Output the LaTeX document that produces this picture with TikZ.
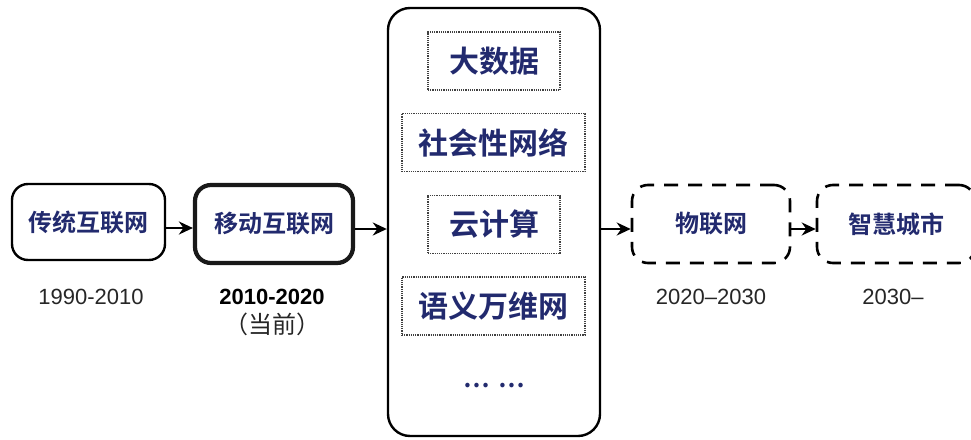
\documentclass[tikz,border=0pt]{standalone}
\usepackage{fontspec}
\setmainfont{Liberation Sans}
\newfontfamily\cjk{Noto Sans CJK SC}
\newfontfamily\cjkb{Noto Sans CJK SC Bold}
\usetikzlibrary{arrows.meta}
\definecolor{navy}{HTML}{222A6E}
\begin{document}
\begin{tikzpicture}[x=1pt,y=-1pt,
  era/.style={minimum width=158pt,minimum height=78pt,rounded corners=16pt,inner sep=0pt,
    text=navy,font=\cjkb\fontsize{24}{24}\selectfont},
  solidbox/.style={era,draw,line width=2.4pt},
  roughbox/.style={era,draw=black!90,line width=4.2pt},
  dashbox/.style={era,draw,line width=2.6pt,dash pattern=on 14pt off 10pt},
  topicbox/.style={draw,black!75,densely dotted,line width=1.2pt,minimum height=58pt,inner sep=0pt,
    text=navy,font=\cjkb\fontsize{30}{30}\selectfont},
  yearlbl/.style={font=\fontsize{22}{22}\selectfont,text=black!85,inner sep=0pt},
  flow/.style={line width=2.4pt,-{Stealth[length=14pt,width=13pt]}}]
\useasboundingbox (0,0) rectangle (971,439);
\node[solidbox,minimum width=153pt,minimum height=76pt] (b1) at (88.5,222) {传统互联网};
\node[roughbox] (b2) at (274,224) {移动互联网};
\node[draw,line width=2.4pt,rounded corners=22pt,minimum width=212pt,minimum height=428pt] (big) at (494,222) {};
\node[topicbox,minimum width=132pt] (t1) at (494,61) {大数据};
\node[topicbox,minimum width=183pt] (t2) at (493.5,142.5) {社会性网络};
\node[topicbox,minimum width=132pt] (t3) at (494,224.5) {云计算};
\node[topicbox,minimum width=183pt] (t4) at (493.5,306) {语义万维网};
\node[text=navy,font=\cjkb\fontsize{24}{24}\selectfont] (t5) at (494,386) {…\hspace{9pt}…};
\node[dashbox] (b3) at (711,224) {物联网};
\node[dashbox] (b4) at (896,224) {智慧城市};
\node[yearlbl] (y1) at (91,297) {1990-2010};
\node[yearlbl,font=\bfseries\fontsize{22}{22}\selectfont,text=black] (y2) at (272,297) {2010-2020};
\node[yearlbl,font=\cjk\fontsize{24}{24}\selectfont] (y2b) at (272,324) {（当前）};
\node[yearlbl] (y3) at (711,297) {2020–2030};
\node[yearlbl] (y4) at (893,297) {2030–};
\draw[flow] ([yshift=-6pt]b1.east) -- ([yshift=-6pt]b1.east -| b2.west);
\draw[flow] ([yshift=-5pt]b2.east) -- ([yshift=-5pt]b2.east -| big.west);
\draw[flow] (big.east |- 0,229) -- (b3.west |- 0,229);
\draw[flow] (b3.east |- 0,229) -- (b4.west |- 0,229);
\end{tikzpicture}
\end{document}
